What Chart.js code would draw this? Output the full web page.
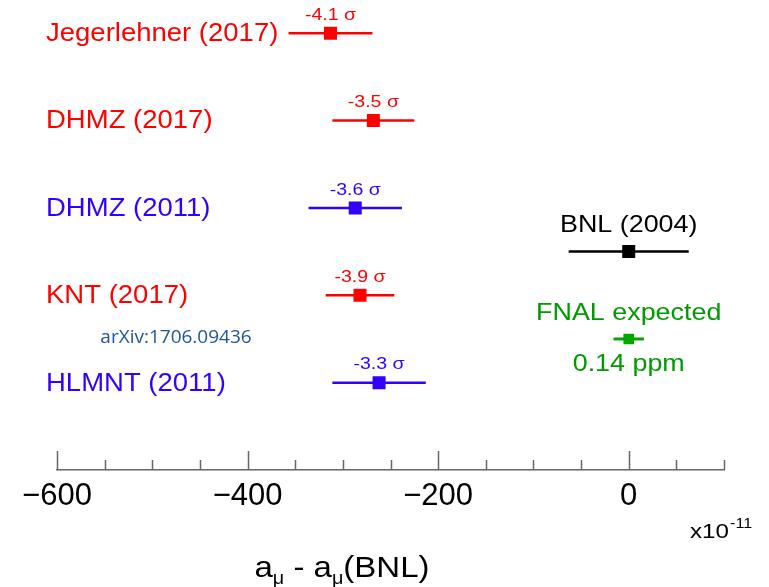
<!DOCTYPE html>
<html><head><meta charset="utf-8">
<script src="https://cdn.jsdelivr.net/npm/chart.js@4/dist/chart.umd.min.js"></script>
<style>html,body{margin:0;padding:0;background:#fff}</style>
</head><body>
<canvas id="c" width="769" height="587" style="display:block;width:769px;height:587px"></canvas>
<script>
// ---- data ----
const predNames   = ['Jegerlehner (2017)', 'DHMZ (2017)', 'DHMZ (2011)', 'KNT (2017)', 'HLMNT (2011)'];
const predCentral = [-313, -268, -287, -282, -262];
const predErrors  = [44, 43, 49, 36, 49];
const predSigma   = ['-4.1 σ', '-3.5 σ', '-3.6 σ', '-3.9 σ', '-3.3 σ'];
const predRows    = [5, 4, 3, 2, 1];

const measNames   = ['BNL (2004)', 'FNAL expected'];
const measCentral = [0, 0];
const measErrors  = [63, 16];
const measRows    = [2.5, 1.5];
const measNotes   = ['', '0.14 ppm'];

const xTickLabels = [-600, -400, -200, 0];
const X_MIN = -600, X_MAX = 100, MINOR_STEP = 50;

// ---- styles ----
const RED = '#ff0000', BLUE = '#3300ff', BLACK = '#000000', GREEN = '#00a800', GREEN_TXT = '#009a00';
const predColors = [RED, RED, BLUE, RED, BLUE];
const measColors = [BLACK, GREEN];
const measTextColors = [BLACK, GREEN_TXT];
const FONT = '"Liberation Sans", Arial, Helvetica, sans-serif';

function txt(ctx, s, x, y, size, color, align, sx) {
  ctx.save();
  ctx.font = size + 'px ' + FONT;
  ctx.fillStyle = color;
  ctx.textBaseline = 'middle';
  ctx.textAlign = align;
  ctx.translate(x, y);
  ctx.scale(sx, 1);
  ctx.fillText(s, 0, 0);
  ctx.restore();
}

const overlay = {
  id: 'overlay',
  beforeDatasetsDraw(chart) {
    const {ctx, scales: {x, y}} = chart;
    ctx.save();
    ctx.lineWidth = 2.5;
    predCentral.forEach((c, i) => {
      const py = y.getPixelForValue(predRows[i]);
      ctx.strokeStyle = predColors[i];
      ctx.beginPath();
      ctx.moveTo(x.getPixelForValue(c - predErrors[i]), py);
      ctx.lineTo(x.getPixelForValue(c + predErrors[i]), py);
      ctx.stroke();
    });
    measCentral.forEach((c, i) => {
      const py = y.getPixelForValue(measRows[i]);
      ctx.strokeStyle = measColors[i];
      ctx.lineWidth = i === 1 ? 3 : 2.5;
      ctx.beginPath();
      ctx.moveTo(x.getPixelForValue(c - measErrors[i]), py);
      ctx.lineTo(x.getPixelForValue(c + measErrors[i]), py);
      ctx.stroke();
    });
    ctx.restore();
  },
  afterDraw(chart) {
    const {ctx, chartArea, scales: {x, y}} = chart;
    // axis ticks (pointing up)
    ctx.save();
    ctx.strokeStyle = '#666';
    ctx.lineWidth = 1.5;
    for (let v = X_MIN; v <= X_MAX; v += MINOR_STEP) {
      const px = Math.round(x.getPixelForValue(v)) + 0.5;
      const len = xTickLabels.includes(v) ? 19 : 10;
      ctx.beginPath();
      ctx.moveTo(px, chartArea.bottom);
      ctx.lineTo(px, chartArea.bottom - len);
      ctx.stroke();
    }
    ctx.restore();
    // prediction labels
    predNames.forEach((n, i) => {
      const py = y.getPixelForValue(predRows[i]);
      txt(ctx, n, 46, py + 1, 25, predColors[i], 'left', 1.1);
      txt(ctx, predSigma[i], x.getPixelForValue(predCentral[i]), py - 18, 17, predColors[i], 'center', 1.15);
    });
    // measurement labels
    measNames.forEach((n, i) => {
      const py = y.getPixelForValue(measRows[i]);
      const px = x.getPixelForValue(measCentral[i]);
      txt(ctx, n, px, py - 26, 24, measTextColors[i], 'center', 1.12);
      if (measNotes[i]) txt(ctx, measNotes[i], px, py + 25, 24, measTextColors[i], 'center', 1.12);
    });
    // reference note
    ctx.save();
    ctx.font = '19px "Open Sans", "Noto Sans", sans-serif';
    ctx.fillStyle = '#1f55a0';
    ctx.textBaseline = 'middle';
    ctx.textAlign = 'center';
    ctx.fillText('arXiv:1706.09436', 176, 338);
    ctx.restore();
    // axis title with subscripts
    ctx.save();
    ctx.textBaseline = 'alphabetic';
    ctx.fillStyle = '#000';
    const parts = [['a', 30, 0], ['μ', 18, 7], [' - a', 30, 0], ['μ', 18, 7], ['(BNL)', 30, 0]];
    const sx = 1.1;
    let total = 0;
    parts.forEach(p => { ctx.font = p[1] + 'px ' + FONT; total += ctx.measureText(p[0]).width * sx; });
    let cx = 342 - total / 2;
    parts.forEach(p => {
      ctx.font = p[1] + 'px ' + FONT;
      ctx.save(); ctx.translate(cx, 577 + p[2]); ctx.scale(sx, 1); ctx.fillText(p[0], 0, 0); ctx.restore();
      cx += ctx.measureText(p[0]).width * sx;
    });
    // multiplier
    ctx.font = '21px ' + FONT;
    ctx.save(); ctx.translate(690, 538); ctx.scale(1.15, 1); ctx.fillText('x10', 0, 0);
    const w = ctx.measureText('x10').width;
    ctx.font = '14px ' + FONT;
    ctx.fillText('-11', w + 1, -10);
    ctx.restore();
    ctx.restore();
  }
};

new Chart(document.getElementById('c'), {
  type: 'scatter',
  data: {
    datasets: [
      {
        data: predCentral.map((c, i) => ({x: c, y: predRows[i]})),
        pointStyle: 'rect', pointRadius: 9.2, pointHoverRadius: 9.2,
        backgroundColor: predColors, borderColor: predColors, borderWidth: 0
      },
      {
        data: measCentral.map((c, i) => ({x: c, y: measRows[i]})),
        pointStyle: 'rect', pointRadius: [9.2, 7.5], pointHoverRadius: [9.2, 7.5],
        backgroundColor: measColors, borderColor: measColors, borderWidth: 0
      }
    ]
  },
  options: {
    responsive: false, animation: false, devicePixelRatio: 1,
    layout: {padding: {left: 57, right: 45, top: 0, bottom: 0}},
    plugins: {legend: {display: false}, tooltip: {enabled: false}, title: {display: false}},
    scales: {
      x: {
        type: 'linear', min: X_MIN, max: X_MAX,
        afterFit: s => { s.height = 117; },
        ticks: {
          stepSize: MINOR_STEP, autoSkip: false, maxRotation: 0, padding: 8,
          color: '#000', font: {family: FONT, size: 31},
          callback: v => xTickLabels.includes(v) ? (v < 0 ? '\u2212' + Math.abs(v) : String(v)) : ''
        },
        grid: {display: true, drawOnChartArea: false, drawTicks: false},
        border: {display: true, color: '#666', width: 1.5}
      },
      y: {type: 'linear', display: false, min: 0, max: 5.275}
    }
  },
  plugins: [overlay]
});
</script>
</body></html>
